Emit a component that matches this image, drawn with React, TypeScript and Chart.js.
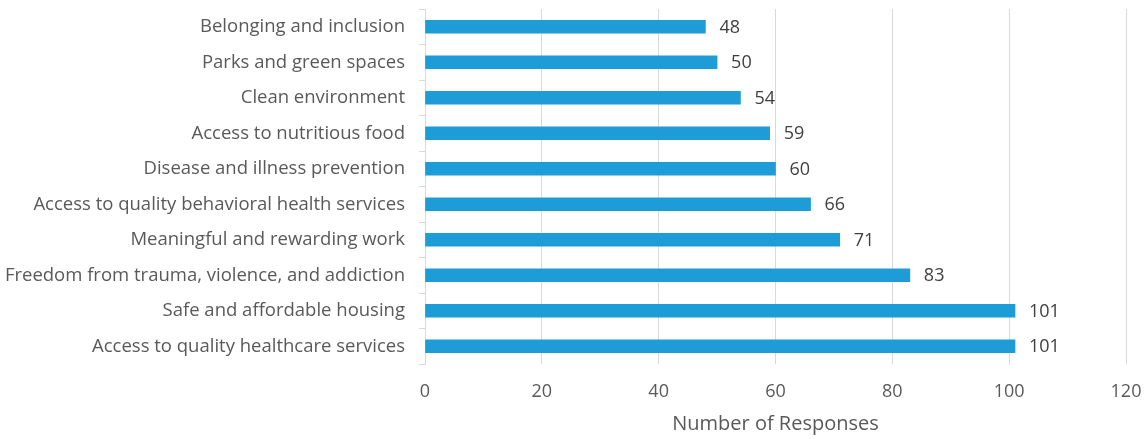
import React, { useEffect, useRef } from "react";
import { Chart, registerables } from "chart.js";

Chart.register(...registerables);

const categories = [
  "Belonging and inclusion",
  "Parks and green spaces",
  "Clean environment",
  "Access to nutritious food",
  "Disease and illness prevention",
  "Access to quality behavioral health services",
  "Meaningful and rewarding work",
  "Freedom from trauma, violence, and addiction",
  "Safe and affordable housing",
  "Access to quality healthcare services",
];

const responses = [48, 50, 54, 59, 60, 66, 71, 83, 101, 101];

const axisTitle = "Number of Responses";

const FONT = "'Open Sans', sans-serif";

// Writes each bar's value just past its end.
const valueLabels = {
  id: "valueLabels",
  afterDatasetsDraw(chart: any) {
    const { ctx } = chart;
    const meta = chart.getDatasetMeta(0);
    ctx.save();
    ctx.font = `18px ${FONT}`;
    ctx.fillStyle = "#404040";
    ctx.textAlign = "left";
    ctx.textBaseline = "middle";
    meta.data.forEach((bar: any, i: number) => {
      ctx.fillText(String(responses[i]), bar.x + 14, bar.y + 1);
    });
    ctx.restore();
  },
};

export default function App() {
  const ref = useRef<HTMLCanvasElement>(null);

  useEffect(() => {
    document.body.style.margin = "0";
    const canvas = ref.current!;
    const chart = new Chart(canvas, {
      type: "bar",
      data: {
        labels: categories,
        datasets: [
          {
            data: responses,
            backgroundColor: "#1E9CD7",
            barThickness: 13,
          },
        ],
      },
      options: {
        indexAxis: "y",
        animation: false,
        responsive: false,
        maintainAspectRatio: false,
        layout: { padding: { top: 9, right: 20, bottom: 0, left: 0 } },
        plugins: {
          legend: { display: false },
          tooltip: { enabled: false },
        },
        scales: {
          x: {
            min: 0,
            max: 120,
            ticks: {
              stepSize: 20,
              color: "#595959",
              font: { family: FONT, size: 18 },
              padding: 17,
            },
            grid: {
              color: "#d9d9d9",
              lineWidth: 1,
              tickLength: 0,
            },
            border: { display: false },
            title: {
              display: true,
              text: axisTitle,
              color: "#595959",
              font: { family: FONT, size: 20 },
              padding: { top: 0, bottom: 3 },
            },
            afterFit(scale: any) {
              scale.height = 75;
              scale.paddingLeft = 0;
              scale.paddingRight = 0;
            },
          },
          y: {
            ticks: {
              color: "#595959",
              font: { family: FONT, size: 18.5 },
              padding: 14,
              autoSkip: false,
            },
            grid: {
              offset: true,
              drawOnChartArea: false,
              color: "#d9d9d9",
              tickLength: 6,
            },
            border: { display: true, color: "#d9d9d9" },
            afterFit(scale: any) {
              scale.width = 425;
              scale.paddingTop = 0;
              scale.paddingBottom = 0;
            },
          },
        },
      },
      plugins: [valueLabels],
    });
    return () => chart.destroy();
  }, []);

  return (
    <canvas
      ref={ref}
      width={1146}
      height={439}
      style={{ display: "block", width: 1146, height: 439 }}
    />
  );
}
